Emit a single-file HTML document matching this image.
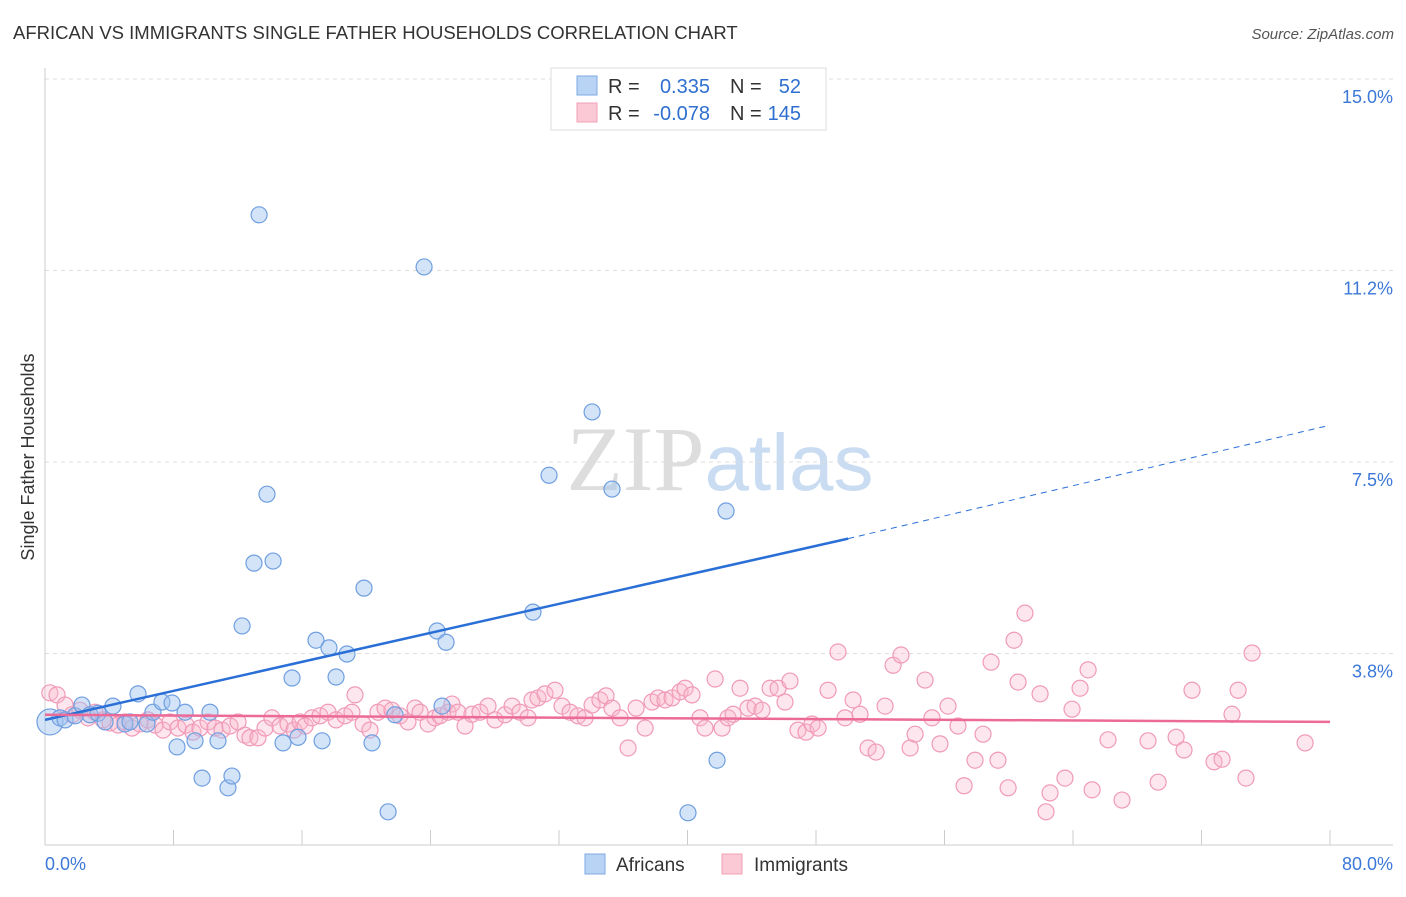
<!DOCTYPE html>
<html><head><meta charset="utf-8"><style>
body{margin:0;background:#fff;font-family:"Liberation Sans",sans-serif;}
svg text{font-family:"Liberation Sans",sans-serif;}
</style></head><body>
<svg id="chart" width="1406" height="892" xmlns="http://www.w3.org/2000/svg">
<text x="13" y="39" font-size="18.5" fill="#333">AFRICAN VS IMMIGRANTS SINGLE FATHER HOUSEHOLDS CORRELATION CHART</text>
<text x="1394" y="39" font-size="15" font-style="italic" fill="#555" text-anchor="end">Source: ZipAtlas.com</text>
<text x="720" y="490" font-size="92" text-anchor="middle"><tspan font-family="Liberation Serif" fill="#ddd">ZIP</tspan><tspan fill="#c9dcf2" font-size="80">atlas</tspan></text>
<text transform="translate(34,457) rotate(-90)" font-size="18" fill="#333" text-anchor="middle">Single Father Households</text>
<g id="grid"></g><g id="axes"></g><g id="pts"></g><g id="lines"></g>
<g>
<rect x="551" y="68" width="275" height="62" fill="#fff" stroke="#ddd"/>
<rect x="577" y="76" width="20" height="19" fill="#b8d3f4" stroke="#7fa9e0"/>
<rect x="577" y="103" width="20" height="19" fill="#fbc8d6" stroke="#f0a0b8"/>
<text x="608" y="93" font-size="20" fill="#333">R = </text><text x="710" y="93" font-size="20" fill="#2e6fd0" text-anchor="end">0.335</text>
<text x="730" y="93" font-size="20" fill="#333">N = </text><text x="801" y="93" font-size="20" fill="#2e6fd0" text-anchor="end">52</text>
<text x="608" y="120" font-size="20" fill="#333">R = </text><text x="710" y="120" font-size="20" fill="#2e6fd0" text-anchor="end">-0.078</text>
<text x="730" y="120" font-size="20" fill="#333">N = </text><text x="801" y="120" font-size="20" fill="#2e6fd0" text-anchor="end">145</text>
</g>
<g>
<rect x="585" y="854" width="20" height="20" fill="#b8d3f4" stroke="#7fa9e0"/>
<text x="616" y="871" font-size="19" fill="#333">Africans</text>
<rect x="722" y="854" width="20" height="20" fill="#fbc8d6" stroke="#f0a0b8"/>
<text x="754" y="871" font-size="19" fill="#333">Immigrants</text>
</g>
</svg>
<script>
const yTicks=[15.0,11.25,7.5,3.75];
const yTickLabels=["15.0%","11.2%","7.5%","3.8%"];
const xLabels=["0.0%","80.0%"];
const africansX=[0.31,0.93,1.25,1.87,2.30,2.80,3.30,3.74,4.23,4.98,5.29,5.79,6.35,6.72,7.28,7.91,8.22,8.72,9.34,9.78,10.27,10.77,11.39,11.64,12.27,13.01,13.33,13.82,14.20,14.82,15.38,15.75,16.87,17.25,17.68,18.12,18.80,19.86,20.36,21.36,21.79,23.60,24.41,24.72,24.97,30.38,31.38,34.06,35.30,40.03,41.84,42.40];
const africansY=[2.41,2.49,2.45,2.53,2.74,2.55,2.58,2.41,2.72,2.37,2.41,2.96,2.37,2.60,2.80,2.78,1.92,2.60,2.04,1.31,2.60,2.04,1.12,1.35,4.29,5.52,12.34,6.87,5.56,2.00,3.27,2.11,4.01,2.04,3.86,3.29,3.74,5.03,2.00,0.65,2.55,11.32,4.19,2.72,3.97,4.56,7.24,8.48,6.97,0.63,1.66,6.54];
const immX=[0.3,0.75,1.25,1.68,2.18,2.68,3.11,3.61,4.05,4.55,4.98,5.42,5.91,6.41,6.85,7.35,7.78,8.28,8.78,9.21,9.65,10.15,10.58,11.02,11.52,12.02,12.45,12.76,13.26,13.70,14.13,14.63,15.13,15.50,15.88,16.19,16.62,17.12,17.62,18.12,18.68,19.11,19.30,19.80,20.23,20.73,21.17,21.60,22.10,22.60,23.04,23.35,23.85,24.28,24.59,25.09,25.34,25.71,26.15,26.58,27.08,27.58,28.02,28.64,29.08,29.57,30.07,30.32,30.69,31.13,31.75,32.19,32.69,33.18,33.62,34.06,34.55,34.93,35.30,35.80,36.30,36.80,37.36,37.79,38.17,38.60,39.04,39.54,39.85,40.28,40.78,41.09,41.72,42.15,42.52,42.84,43.27,43.77,44.21,44.64,45.14,45.64,46.07,46.38,46.88,47.38,47.75,48.13,48.75,49.37,49.81,50.31,50.74,51.24,51.74,52.30,52.80,53.29,53.86,54.17,54.79,55.22,55.72,56.22,56.84,57.22,57.90,58.40,58.90,59.33,59.96,60.33,60.58,61.01,61.95,62.32,62.57,63.50,63.94,64.44,64.94,65.19,66.18,67.05,68.67,69.30,70.42,70.91,71.41,72.78,73.28,73.90,74.28,74.77,75.15,78.45];
const immY=[2.98,2.94,2.74,2.55,2.64,2.49,2.60,2.45,2.39,2.35,2.41,2.29,2.37,2.45,2.35,2.25,2.41,2.29,2.35,2.21,2.29,2.41,2.29,2.25,2.33,2.41,2.15,2.10,2.10,2.29,2.49,2.33,2.37,2.25,2.41,2.33,2.49,2.53,2.60,2.45,2.53,2.60,2.94,2.37,2.25,2.60,2.68,2.64,2.53,2.41,2.68,2.60,2.37,2.49,2.53,2.60,2.76,2.60,2.33,2.56,2.60,2.72,2.45,2.55,2.72,2.60,2.49,2.84,2.88,2.96,3.03,2.72,2.60,2.53,2.49,2.74,2.84,2.92,2.68,2.49,1.90,2.68,2.29,2.80,2.88,2.84,2.88,3.00,3.07,2.94,2.49,2.29,3.25,2.29,2.49,2.56,3.07,2.68,2.72,2.64,3.07,3.07,2.80,3.21,2.25,2.21,2.37,2.29,3.03,3.78,2.49,2.84,2.56,1.90,1.82,2.72,3.52,3.72,1.90,2.17,3.23,2.49,1.98,2.72,2.33,1.16,1.66,2.17,3.58,1.66,1.12,4.01,3.19,4.54,2.96,0.65,1.02,1.31,2.66,3.07,3.43,1.08,2.06,0.88,2.04,1.23,2.11,1.86,3.03,1.63,1.68,2.56,3.03,1.31,3.76,2.00];
const blueTrend=[[0,2.45],[50,6.0],[80,8.22]];
const pinkTrend=[[0,2.55],[80,2.41]];

const NS="http://www.w3.org/2000/svg";
const sx=v=>45+v/80*1285;
const sy=v=>845-v/15*766;
function mk(tag,attrs,parent){const e=document.createElementNS(NS,tag);for(const k in attrs)e.setAttribute(k,attrs[k]);parent.appendChild(e);return e;}
const grid=document.getElementById('grid'),axes=document.getElementById('axes'),pts=document.getElementById('pts'),lines=document.getElementById('lines');
yTicks.forEach((t,i)=>{
 const l=mk('line',{x1:45,x2:1393,y1:sy(t),y2:sy(t),stroke:'#ddd','stroke-dasharray':'4,4'},grid);
 
 
 const tx=mk('text',{x:1393,y:sy(t)+24,'font-size':18,fill:'#3b78d8','text-anchor':'end'},grid);
 tx.textContent=yTickLabels[i];
 
 
});
const xa=mk('line',{x1:45,x2:1393,y1:845,y2:845,stroke:'#ccc'},axes);


const ya=mk('line',{x1:45,x2:45,y1:68,y2:845,stroke:'#ccc'},axes);


for(let i=1;i<=10;i++){const tk=mk('line',{x1:sx(i*8),x2:sx(i*8),y1:830,y2:845,stroke:'#ccc'},axes);
 
 }
const xl0=mk('text',{x:45,y:870,'font-size':18,fill:'#3b78d8'},axes);xl0.textContent=xLabels[0];


const xl1=mk('text',{x:1393,y:870,'font-size':18,fill:'#3b78d8','text-anchor':'end'},axes);xl1.textContent=xLabels[1];


immX.forEach((x,i)=>{const c=mk('circle',{cx:sx(x),cy:sy(immY[i]),r:8,fill:'rgba(248,182,202,0.35)',stroke:'#f09ab8','stroke-width':1.2},pts);
 
 });
africansX.forEach((x,i)=>{const c=mk('circle',{cx:sx(x),cy:sy(africansY[i]),r:i===0?13:8,fill:'rgba(160,196,240,0.45)',stroke:'#6f9fe0','stroke-width':1.2},pts);
 
 });
const b1=mk('line',{x1:sx(blueTrend[0][0]),y1:sy(blueTrend[0][1]),x2:sx(blueTrend[1][0]),y2:sy(blueTrend[1][1]),stroke:'#2a6fd6','stroke-width':2.5},lines);


const b2=mk('line',{x1:sx(blueTrend[1][0]),y1:sy(blueTrend[1][1]),x2:sx(blueTrend[2][0]),y2:sy(blueTrend[2][1]),stroke:'#2a6fd6','stroke-width':1,'stroke-dasharray':'6,5'},lines);


const p1=mk('line',{x1:sx(pinkTrend[0][0]),y1:sy(pinkTrend[0][1]),x2:sx(pinkTrend[1][0]),y2:sy(pinkTrend[1][1]),stroke:'#ec6a97','stroke-width':2.5},lines);


</script>
</body></html>
